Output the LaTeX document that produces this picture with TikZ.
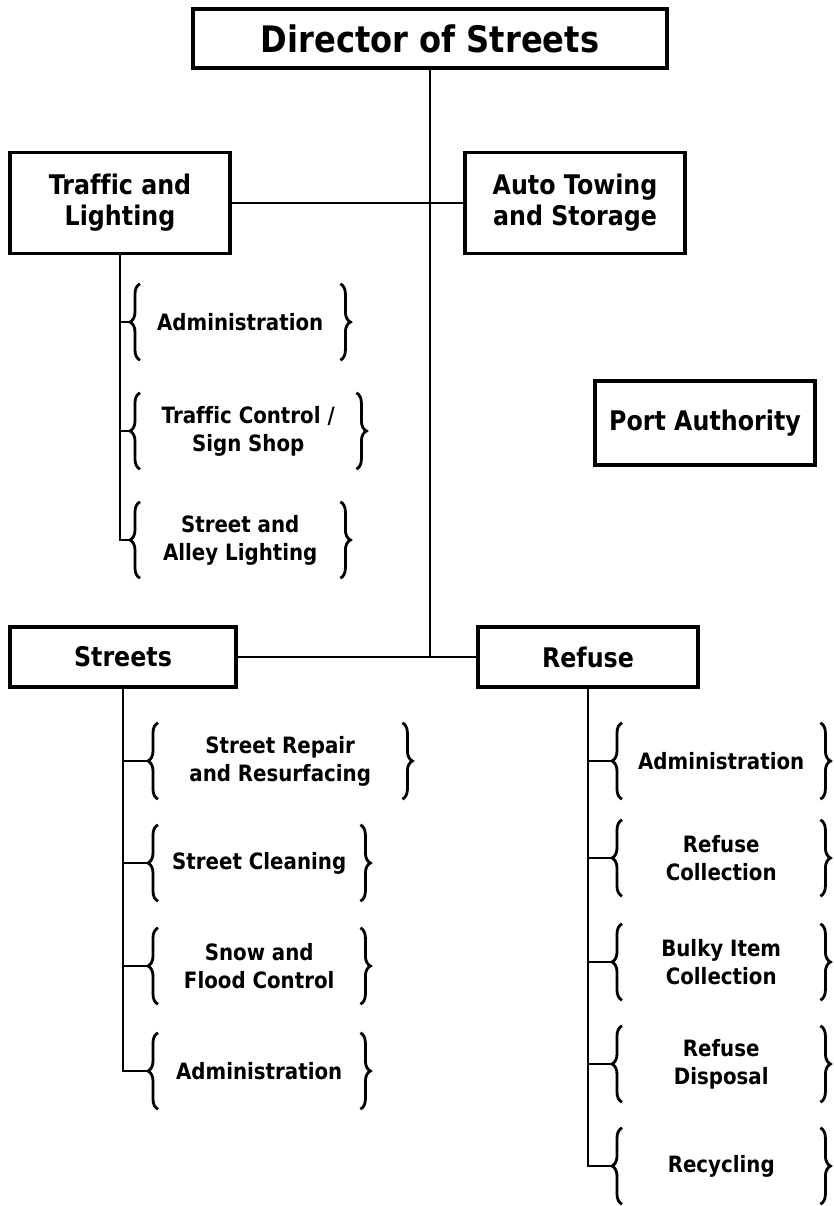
\documentclass[tikz,border=0pt]{standalone}
\usepackage{fontspec}
\setmainfont{DejaVu Sans}[FakeStretch=0.88, Ligatures=NoCommon]
\usetikzlibrary{decorations.pathreplacing}

\begin{document}
\begin{tikzpicture}[x=1pt, y=-1pt,
  box/.style={draw, rectangle, line width=3.5pt, inner sep=0pt, align=center, minimum width=220pt, font=\bfseries\fontsize{27}{31}\selectfont},
  sub/.style={rectangle, anchor=west, inner sep=0pt, minimum width=220pt, minimum height=76pt, align=center, font=\bfseries\fontsize{22.5}{28}\selectfont},
  brc/.style={decorate, decoration={brace, amplitude=10pt}, line width=2.8pt},
  wire/.style={-, line width=2pt}]
\useasboundingbox (0,0) rectangle (834,1206);

% top and the four divisions
\node[box, minimum width=474pt, minimum height=59pt, font=\bfseries\fontsize{36.5}{40}\selectfont] (dir) at (430,38.5) {Director of Streets};
\node[box, minimum height=101pt] (tl) at (120,203) {Traffic and\\Lighting};
\node[box, minimum height=101pt] (auto) at (575,203) {Auto Towing\\and Storage};
\node[box, minimum height=84pt] (port) at (705,423) {Port Authority};
\node[box, minimum width=226pt, minimum height=60pt] (strt) at (123,657) {Streets};
\node[box, minimum height=60pt] (ref) at (588,657) {Refuse};

\draw [wire] (dir.south) -- (dir.south |- strt.east);
\draw [wire] (tl.east) -- (auto.west);
\draw [wire] (strt.east) -- (ref.west);

% traffic and lighting
\node[sub] (tladm) at (130,322) {Administration};
\node[sub, minimum width=236pt] (tlsign) at (130,431) {Traffic Control /\\Sign Shop};
\node[sub] (tlalley) at (130,540) {Street and\\Alley Lighting};

% streets
\node[sub, minimum width=264pt] (stfix) at (148,761) {Street Repair\\and Resurfacing};
\node[sub, minimum width=222pt] (stclean) at (148,863) {Street Cleaning};
\node[sub, minimum width=222pt] (stsnow) at (148,966) {Snow and\\Flood Control};
\node[sub, minimum width=222pt] (stadm) at (148,1071) {Administration};

% refuse
\node[sub, minimum width=218pt] (rfadm) at (612,761) {Administration};
\node[sub, minimum width=218pt] (rfcoll) at (612,858) {Refuse\\Collection};
\node[sub, minimum width=218pt] (rfbulky) at (612,962) {Bulky Item\\Collection};
\node[sub, minimum width=218pt] (rfdisp) at (612,1064) {Refuse\\Disposal};
\node[sub, minimum width=218pt] (rfrecy) at (612,1166) {Recycling};

\foreach \n in {tladm,tlsign,tlalley,stfix,stclean,stsnow,stadm,rfadm,rfcoll,rfbulky,rfdisp,rfrecy} {
  \draw [brc] ([xshift=10pt]\n.south west) -- ([xshift=10pt]\n.north west);
  \draw [brc] ([xshift=-10pt]\n.north east) -- ([xshift=-10pt]\n.south east);
}

\foreach \n in {tladm,tlsign,tlalley}
  \draw [wire] (tl.south) |- (\n.west);
\foreach \n in {stfix,stclean,stsnow,stadm}
  \draw [wire] (strt.south) |- (\n.west);
\foreach \n in {rfadm,rfcoll,rfbulky,rfdisp,rfrecy}
  \draw [wire] (ref.south) |- (\n.west);
\end{tikzpicture}
\end{document}
